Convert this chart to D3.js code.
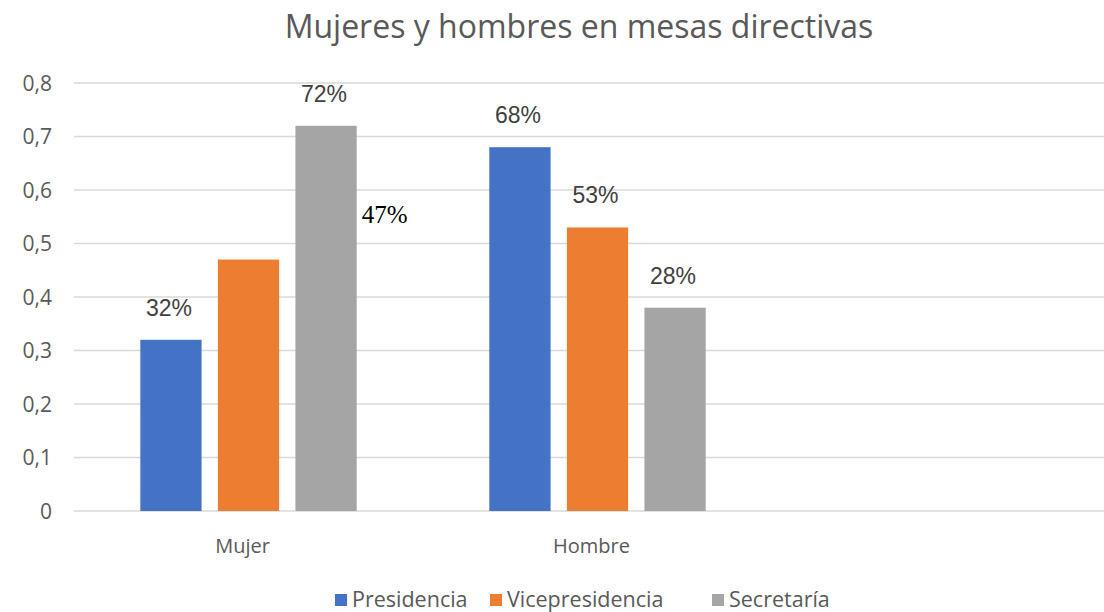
<!DOCTYPE html>
<html><head><meta charset="utf-8">
<script src="https://cdn.jsdelivr.net/npm/d3@7"></script>
<style>body{margin:0;background:#fff}svg{display:block}.serif{font-family:"Times New Roman","Liberation Serif","DejaVu Serif",serif}</style>
</head><body><svg id="c" width="1104" height="612"></svg>
<script>
const categories = ["Mujer", "Hombre", ""];
const seriesNames = ["Presidencia", "Vicepresidencia", "Secretaría"];
const presidencia = [0.32, 0.68, null];
const vicepresidencia = [0.47, 0.53, null];
const secretaria = [0.72, 0.38, null];
const labelsPresidencia = ["32%", "68%", ""];
const labelsVicepresidencia = ["47%", "53%", ""];
const labelsSecretaria = ["72%", "28%", ""];
const yTicks = [0, 0.1, 0.2, 0.3, 0.4, 0.5, 0.6, 0.7, 0.8];
const colors = ["#4472C4", "#ED7D31", "#A5A5A5"];

const series = [presidencia, vicepresidencia, secretaria];
const labels = [labelsPresidencia, labelsVicepresidencia, labelsSecretaria];

const svg = d3.select("#c");
const mLeft = 74, mRight = 1121, mTop = 83, mBottom = 511;
const x = d3.scaleBand().domain(categories).range([mLeft, mRight]).paddingInner(0).paddingOuter(0);
const sub = d3.scaleBand().domain(seriesNames).range([x.bandwidth()*0.19, x.bandwidth()*0.81]).paddingInner(0.21);
const y = d3.scaleLinear().domain([0, 0.8]).range([mBottom, mTop]);

const gray = "#595959";
// gridlines
svg.append("g").selectAll("line").data(yTicks).join("line")
  .attr("x1", mLeft).attr("x2", 1104)
  .attr("y1", d => y(d)).attr("y2", d => y(d))
  .attr("stroke", "#D9D9D9").attr("stroke-width", 1.5);

// y axis labels
const yAxis = d3.axisLeft(y).tickValues(yTicks).tickSize(0).tickPadding(0)
  .tickFormat(d => d === 0 ? "0" : d3.format(".1f")(d).replace(".", ","));
const ya = svg.append("g").attr("transform", `translate(52,0)`).call(yAxis);
ya.select(".domain").remove();
ya.selectAll("text").attr("fill", gray).style("font-family", "Open Sans").style("font-size", "21px").attr("dy", "0.35em");

// x axis labels
const xAxis = d3.axisBottom(x).tickSize(0).tickPadding(0);
const xa = svg.append("g").attr("transform", `translate(0,${mBottom})`).call(xAxis);
xa.select(".domain").remove();
xa.selectAll("text").attr("fill", gray).style("font-family", "Open Sans").style("font-size", "20px").attr("dy", "0").attr("y", 42).attr("dx", "-6");

// bars
series.forEach((vals, si) => {
  svg.append("g").selectAll("rect").data(categories.map((c, i) => ({c, v: vals[i]})).filter(d => d.v != null)).join("rect")
    .attr("x", d => x(d.c) + sub(seriesNames[si]))
    .attr("width", sub.bandwidth())
    .attr("y", d => y(d.v))
    .attr("height", d => y(0) - y(d.v))
    .attr("fill", colors[si]);
});

// data labels
series.forEach((vals, si) => {
  categories.forEach((c, i) => {
    if (vals[i] == null) return;
    const cx = x(c) + sub(seriesNames[si]) + sub.bandwidth()/2;
    const t = svg.append("text").text(labels[si][i]);
    if (si === 1 && i === 0) {
      const sx = x(c) + sub(seriesNames[2]) + sub.bandwidth();
      t.attr("class", "serif").attr("x", sx + 5).attr("y", y(vals[i]) - 37)
        .attr("text-anchor", "start").attr("fill", "#000")
        .attr("font-size", 25);
    } else {
      t.attr("x", cx - 2).attr("y", y(vals[i]) - 24)
        .attr("text-anchor", "middle").attr("fill", "#404040")
        .style("font-family", "Liberation Sans").style("font-size", "23px");
    }
  });
});

// title
svg.append("text").text("Mujeres y hombres en mesas directivas")
  .attr("x", 579).attr("y", 38).attr("text-anchor", "middle")
  .attr("fill", gray).style("font-family", "Open Sans").style("font-size", "32px");

// legend
const legX = [335, 490, 712];
const lg = svg.append("g");
seriesNames.forEach((n, i) => {
  lg.append("rect").attr("x", legX[i]).attr("y", 594).attr("width", 12).attr("height", 12).attr("fill", colors[i]);
  lg.append("text").text(n).attr("x", legX[i] + 17).attr("y", 607)
    .attr("fill", gray).style("font-family", "Open Sans").style("font-size", "21.5px");
});
</script></body></html>
